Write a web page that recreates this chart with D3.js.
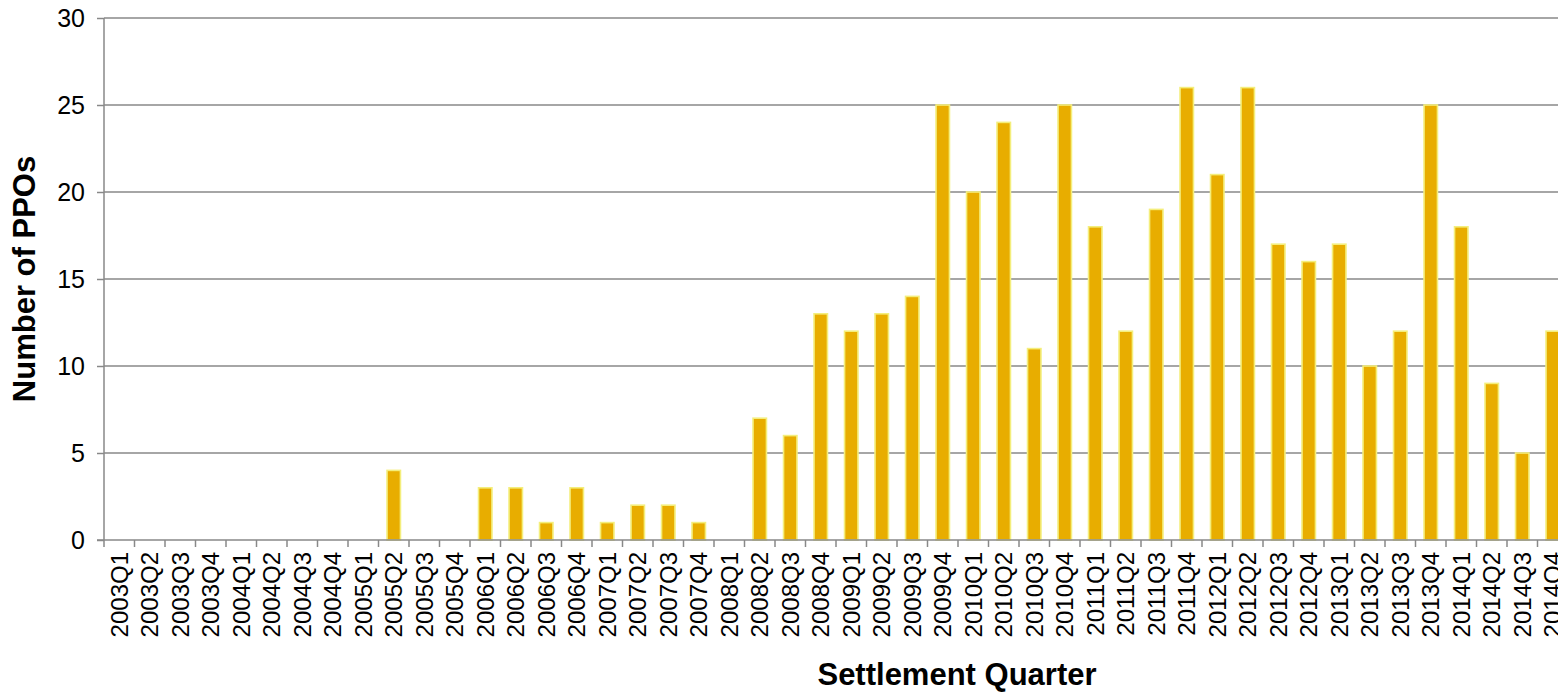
<!DOCTYPE html>
<html><head><meta charset="utf-8">
<script src="https://cdn.jsdelivr.net/npm/d3@7"></script>
<style>body{margin:0;background:#fff;overflow:hidden}svg{display:block}text{font-family:Arial,"Liberation Sans",sans-serif}</style>
</head><body>
<svg id="c" width="1558" height="693"></svg>
<script>
const categories = ["2003Q1","2003Q2","2003Q3","2003Q4","2004Q1","2004Q2","2004Q3","2004Q4","2005Q1","2005Q2","2005Q3","2005Q4","2006Q1","2006Q2","2006Q3","2006Q4","2007Q1","2007Q2","2007Q3","2007Q4","2008Q1","2008Q2","2008Q3","2008Q4","2009Q1","2009Q2","2009Q3","2009Q4","2010Q1","2010Q2","2010Q3","2010Q4","2011Q1","2011Q2","2011Q3","2011Q4","2012Q1","2012Q2","2012Q3","2012Q4","2013Q1","2013Q2","2013Q3","2013Q4","2014Q1","2014Q2","2014Q3","2014Q4"];
const ppoCounts = [0,0,0,0,0,0,0,0,0,4,0,0,3,3,1,3,1,2,2,1,0,7,6,13,12,13,14,25,20,24,11,25,18,12,19,26,21,26,17,16,17,10,12,25,18,9,5,12];
const yTicks = [0,5,10,15,20,25,30];

const svg = d3.select("#c");
const pL = 104, pR = 1568, pT = 18, pB = 540;
const x = d3.scaleBand().domain(categories).range([pL, pR]).paddingInner(0.56).paddingOuter(0.28);
const y = d3.scaleLinear().domain([0,30]).range([pB, pT]);
const grey = "#888888";

// gridlines
svg.append("g").selectAll("line").data(yTicks.filter(d=>d>0)).join("line")
  .attr("x1", pL).attr("x2", pR).attr("y1", d=>y(d)).attr("y2", d=>y(d))
  .attr("stroke", grey).attr("stroke-width", 1.5);

// bars
svg.append("g").selectAll("rect").data(categories).join("rect")
  .attr("x", d=>x(d)).attr("width", x.bandwidth())
  .attr("y", (d,i)=>y(ppoCounts[i])).attr("height", (d,i)=>pB - y(ppoCounts[i]))
  .attr("fill", (d,i)=>ppoCounts[i] ? "#E8AD00" : "none")
  .attr("stroke", (d,i)=>ppoCounts[i] ? "#F4EE7C" : "none").attr("stroke-width", 1.6);

// y axis
const yAxis = d3.axisLeft(y).tickValues(yTicks).tickSize(7).tickPadding(12);
const gy = svg.append("g").attr("transform", `translate(${pL},0)`).call(yAxis);
gy.select(".domain").attr("stroke", grey).attr("stroke-width", 1.5).attr("d", `M0,${pT}V${pB}`);
gy.selectAll(".tick line").attr("stroke", grey).attr("stroke-width", 1.5);
gy.selectAll(".tick text").attr("font-size", 25).attr("fill", "#000").attr("font-family", "Arial, 'Liberation Sans', sans-serif");

// x axis with ticks at boundaries
const off = (x.step() - x.bandwidth())/2;
const gx = svg.append("g");
gx.append("line").attr("x1", pL - 7).attr("x2", pR).attr("y1", pB).attr("y2", pB)
  .attr("stroke", grey).attr("stroke-width", 1.5);
gx.selectAll("line.t").data(categories).join("line").attr("class","t")
  .attr("x1", d=>x(d) - off).attr("x2", d=>x(d) - off)
  .attr("y1", pB).attr("y2", pB + 7)
  .attr("stroke", grey).attr("stroke-width", 1.5);
gx.selectAll("text").data(categories).join("text")
  .attr("transform", d=>`translate(${x(d) + x.bandwidth()/2},${pB + 12}) rotate(-90)`)
  .attr("text-anchor", "end").attr("dy", "0.36em")
  .attr("font-size", 24).attr("fill", "#000").text(d=>d);

// titles
svg.append("text").attr("transform", `translate(35,${(pT+pB)/2}) rotate(-90)`)
  .attr("text-anchor", "middle").attr("font-weight", "bold").attr("font-size", 31).text("Number of PPOs");
svg.append("text").attr("x", 957).attr("y", 685)
  .attr("text-anchor", "middle").attr("font-weight", "bold").attr("font-size", 31).text("Settlement Quarter");
</script>
</body></html>
